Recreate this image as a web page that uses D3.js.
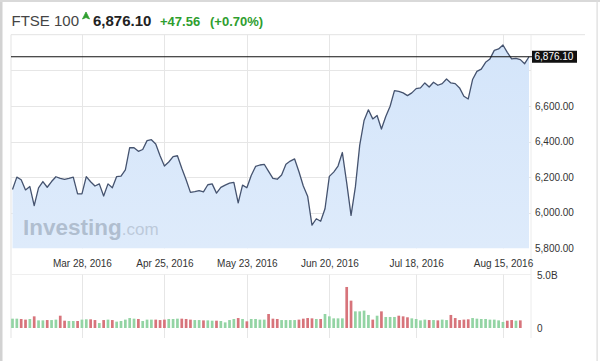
<!DOCTYPE html>
<html>
<head>
<meta charset="utf-8">
<script src="https://cdn.jsdelivr.net/npm/d3@7"></script>
<style>
  html, body { margin: 0; padding: 0; background: #fff; }
  svg { display: block; font-family: "Liberation Sans", Arial, sans-serif; }
</style>
</head>
<body>
<svg id="chart" width="600" height="361"></svg>
<script>
// ---------------- DATA ----------------
const title = "FTSE 100";
const lastPrice = 6876.10;
const lastPriceText = "6,876.10";
const changeText = "+47.56";
const changePctText = "(+0.70%)";

// daily closes (trading days, Mar 3 2016 .. Aug 23 2016)
const closes = [
  6130, 6200, 6185, 6128, 6147, 6040, 6140, 6175, 6143, 6175,
  6202, 6193, 6187, 6193, 6200, 6106, 6106, 6203, 6174, 6150,
  6162, 6094, 6162, 6140, 6203, 6205, 6240, 6365, 6365, 6345,
  6355, 6405, 6410, 6386, 6320, 6262, 6285, 6315, 6320, 6250,
  6185, 6114, 6118, 6124, 6117, 6157, 6162, 6110, 6142, 6155,
  6166, 6170, 6055, 6155, 6140, 6209, 6260, 6268, 6272, 6232,
  6193, 6188, 6212, 6272, 6290, 6302, 6230, 6150, 6093, 5930,
  5966, 5952, 6022, 6204, 6228, 6262, 6338, 6168, 5985, 6145,
  6380, 6518, 6578, 6527, 6546, 6470, 6540, 6598, 6686, 6682,
  6673, 6658, 6673, 6697, 6701, 6729, 6706, 6733, 6716, 6725,
  6751, 6729, 6725, 6701, 6654, 6639, 6748, 6794, 6807, 6845,
  6864, 6912, 6920, 6942, 6901, 6864, 6867, 6860, 6837, 6876.1
];

// daily volume, billions (last two sessions not shown)
const volumes = [
  0.88, 0.88, 0.85, 0.79, 0.85, 1.10, 0.72, 0.72, 0.75, 0.75,
  0.79, 1.16, 0.69, 0.66, 0.66, 0.66, 0.79, 0.82, 0.82, 0.75,
  0.47, 0.75, 0.79, 0.75, 0.60, 0.66, 0.79, 0.94, 0.88, 0.85,
  0.66, 0.79, 0.79, 0.79, 0.75, 0.79, 0.85, 0.85, 0.88, 0.88,
  0.85, 0.79, 0.75, 0.75, 0.72, 0.72, 0.69, 0.69, 0.66, 0.53,
  0.75, 0.85, 0.94, 0.85, 0.63, 0.85, 0.85, 0.79, 0.79, 1.32,
  0.88, 0.85, 0.75, 0.75, 0.75, 0.75, 0.79, 0.88, 0.94, 0.91,
  0.85, 0.85, 1.32, 1.10, 0.91, 0.91, 0.91, 3.87, 2.58, 1.57,
  1.57, 1.64, 1.23, 0.79, 1.16, 1.57, 1.04, 1.04, 1.04, 1.16,
  1.10, 1.01, 0.91, 0.85, 0.72, 0.79, 0.75, 0.75, 0.72, 0.79,
  0.75, 1.23, 0.94, 0.75, 0.79, 0.82, 0.94, 0.88, 0.85, 0.85,
  0.79, 0.79, 0.72, 0.57, 0.69, 0.75, 0.69, 0.72, null, null
];

const dateTickIndex = [16, 35, 54, 73, 93, 113];
const dateTickLabels = ["Mar 28, 2016", "Apr 25, 2016", "May 23, 2016", "Jun 20, 2016", "Jul 18, 2016", "Aug 15, 2016"];
const priceGridTicks = [5800, 6000, 6200, 6400, 6600, 6800];
const priceLabelTicks = [5800, 6000, 6200, 6400, 6600];
const volumeTicks = [0, 5];
const volumeTickLabels = ["0", "5.0B"];

// ---------------- LAYOUT ----------------
const svg = d3.select("#chart");
const plotL = 11, plotR = 531;
const priceTop = 34.7, priceBot = 248.3;
const volTop = 274.5, volBot = 338, volBase = 328;

const x = d3.scaleLinear().domain([0, closes.length - 1]).range([12.5, 529]);
const y = d3.scaleLinear().domain([5800, 7000]).range([priceBot, priceTop]);
const yv = d3.scaleLinear().domain([0, 5]).range([volBase, volBase - 53]);

const gridColor = "#e6e6e6";
const green = "#2f9e2f";

// outer frame
svg.append("rect").attr("x", 0).attr("y", 0).attr("width", 2.5).attr("height", 361).attr("fill", "#d2d2d2");
svg.append("rect").attr("x", 0).attr("y", 0).attr("width", 600).attr("height", 2).attr("fill", "#d9d9d9");
svg.append("rect").attr("x", 596.5).attr("y", 0).attr("width", 1.2).attr("height", 361).attr("fill", "#dcdcdc");

// header
const header = svg.append("g");
header.append("text").attr("x", 11.5).attr("y", 26).attr("font-size", 15).attr("fill", "#444").text(title);
header.append("path").attr("d", "M82.5,19 L86,12 L89.5,19 L86,17.5 Z").attr("fill", green)
  .attr("stroke", green).attr("stroke-width", 0.8).attr("stroke-linejoin", "round");
header.append("text").attr("x", 93).attr("y", 26).attr("font-size", 15).attr("font-weight", "bold").attr("fill", "#222").text(lastPriceText);
header.append("text").attr("x", 160).attr("y", 26).attr("font-size", 13).attr("font-weight", "bold").attr("fill", green).text(changeText);
header.append("text").attr("x", 210).attr("y", 26).attr("font-size", 13).attr("font-weight", "bold").attr("fill", green).text(changePctText);

// panel borders
svg.append("line").attr("x1", plotL).attr("x2", 585).attr("y1", priceTop).attr("y2", priceTop).attr("stroke", "#e3e3e3");
svg.append("line").attr("x1", plotL).attr("x2", plotL).attr("y1", priceTop).attr("y2", volBot).attr("stroke", "#e3e3e3");
svg.append("line").attr("x1", plotR).attr("x2", plotR).attr("y1", priceTop).attr("y2", volBot).attr("stroke", "#ececec");
svg.append("line").attr("x1", plotL).attr("x2", plotR).attr("y1", volTop).attr("y2", volTop).attr("stroke", "#efefef");

// horizontal gridlines
svg.append("g").selectAll("line").data(priceGridTicks.slice(1)).join("line")
  .attr("x1", plotL).attr("x2", plotR)
  .attr("y1", d => Math.round(y(d)) + 0.5).attr("y2", d => Math.round(y(d)) + 0.5)
  .attr("stroke", gridColor);

// vertical gridlines (price + volume panels)
svg.append("g").selectAll("line").data(dateTickIndex).join("line")
  .attr("x1", d => Math.round(x(d)) + 0.5).attr("x2", d => Math.round(x(d)) + 0.5)
  .attr("y1", priceTop).attr("y2", priceBot).attr("stroke", gridColor);
svg.append("g").selectAll("line").data(dateTickIndex).join("line")
  .attr("x1", d => Math.round(x(d)) + 0.5).attr("x2", d => Math.round(x(d)) + 0.5)
  .attr("y1", volTop).attr("y2", volBot).attr("stroke", gridColor);

// area
const grad = svg.append("defs").append("linearGradient").attr("id", "fillGrad")
  .attr("x1", 0).attr("y1", 0).attr("x2", 0).attr("y2", 1);
grad.append("stop").attr("offset", "0%").attr("stop-color", "#d4e5fa");
grad.append("stop").attr("offset", "100%").attr("stop-color", "#deebfb");

const area = d3.area().x((d, i) => x(i)).y0(priceBot).y1(d => y(d));
svg.append("path").datum(closes).attr("d", area).attr("fill", "url(#fillGrad)");

// watermark
const wm = svg.append("text").attr("x", 23).attr("y", 235);
wm.append("tspan").attr("font-size", 22.5).attr("font-weight", "bold").attr("fill", "#a8b6c8").attr("fill-opacity", 0.85).text("Investing");
wm.append("tspan").attr("font-size", 17).attr("fill", "#b6c3d4").attr("fill-opacity", 0.85).text(".com");

// line
const line = d3.line().x((d, i) => x(i)).y(d => y(d));
svg.append("path").datum(closes).attr("d", line).attr("fill", "none")
  .attr("stroke", "#45536f").attr("stroke-width", 1.3).attr("stroke-linejoin", "round");

// last price line + label
svg.append("line").attr("x1", plotL).attr("x2", plotR + 1)
  .attr("y1", y(lastPrice)).attr("y2", y(lastPrice)).attr("stroke", "#111").attr("stroke-width", 1);
svg.append("rect").attr("x", 532).attr("y", y(lastPrice) - 6).attr("width", 45).attr("height", 12).attr("fill", "#111");
svg.append("text").attr("x", 534.5).attr("y", y(lastPrice)).attr("dy", "0.35em")
  .attr("font-size", 10).attr("fill", "#fff").text(lastPriceText);

// price axis
const yAxis = d3.axisRight(y).tickValues(priceLabelTicks).tickSize(0).tickPadding(4)
  .tickFormat(d3.format(",.2f"));
const gy = svg.append("g").attr("transform", `translate(${plotR},0)`).call(yAxis);
gy.select(".domain").remove();
gy.selectAll("text").attr("font-size", 10).attr("fill", "#333").attr("font-family", "Liberation Sans, Arial, sans-serif");

// date axis
const xAxis = d3.axisBottom(x).tickValues(dateTickIndex).tickSize(0).tickPadding(0)
  .tickFormat((d, i) => dateTickLabels[i]);
const gx = svg.append("g").attr("transform", `translate(0,260)`).call(xAxis);
gx.select(".domain").remove();
gx.selectAll("text").attr("font-size", 10).attr("fill", "#333").attr("font-family", "Liberation Sans, Arial, sans-serif");

// volume bars
const upColor = "#93d4a4", downColor = "#d7747b";
svg.append("g").selectAll("rect")
  .data(volumes.map((v, i) => ({ v, i })).filter(d => d.v != null))
  .join("rect")
  .attr("x", d => x(d.i) - 1.35)
  .attr("width", 2.7)
  .attr("y", d => yv(d.v))
  .attr("height", d => yv(0) - yv(d.v))
  .attr("fill", d => (d.i === 0 || closes[d.i] >= closes[d.i - 1]) ? upColor : downColor);

// volume axis
const vAxis = d3.axisRight(yv).tickValues(volumeTicks).tickSize(0).tickPadding(6)
  .tickFormat((d, i) => volumeTickLabels[i]);
const gv = svg.append("g").attr("transform", `translate(${plotR},0)`).call(vAxis);
gv.select(".domain").remove();
gv.selectAll("text").attr("font-size", 10).attr("fill", "#333").attr("font-family", "Liberation Sans, Arial, sans-serif");
</script>
</body>
</html>
